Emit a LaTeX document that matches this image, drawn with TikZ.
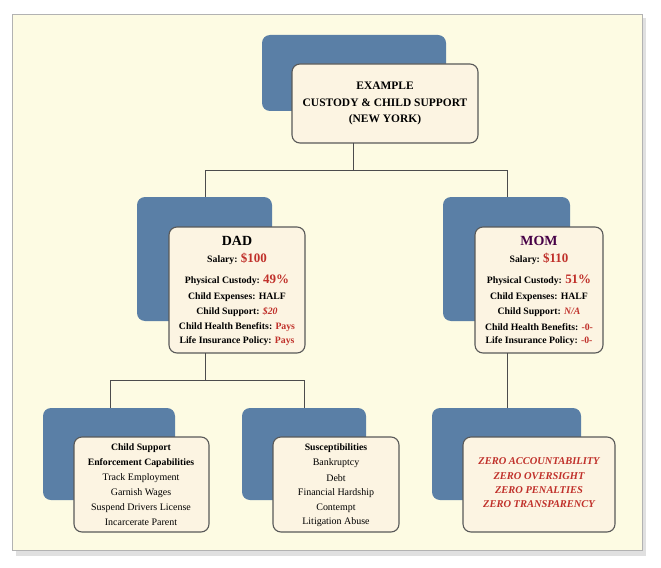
\documentclass[tikz,border=0pt]{standalone}
\usepackage{fontspec}
\setmainfont{Liberation Serif}
\usetikzlibrary{positioning}
\definecolor{cream}{HTML}{FDFBE3}
\definecolor{boxfill}{HTML}{FCF4E2}
\definecolor{steel}{HTML}{5A7FA6}
\definecolor{money}{HTML}{C0302A}
\tikzset{
  backbox/.style={fill=steel, rounded corners=8bp},
  frontbox/.style={draw=black!65, line width=1.1pt, fill=boxfill, rounded corners=8bp},
  wire/.style={draw=black!70, line width=1pt},
  txt/.style={font=\bfseries\fontsize{9.8}{10}\selectfont, inner sep=0pt},
  plain/.style={font=\fontsize{10}{10}\selectfont, inner sep=0pt},
  zero/.style={font=\bfseries\itshape\fontsize{10.5}{10}\selectfont, text=money, inner sep=0pt}
}
\newcommand{\red}[1]{\textcolor{money}{#1}}
\newcommand{\bigred}[1]{{\fontsize{13}{13}\selectfont\red{#1}}}
\begin{document}
\begin{tikzpicture}[x=1bp,y=-1bp]
  \useasboundingbox (0,0) rectangle (661,568);
  % frame
  \fill[black!12] (16,18) rectangle (646,556);
  \draw[black!30, fill=cream] (12,14) rectangle (642,550);

  % top box
  \fill[backbox] (262,35) rectangle (446,111);
  \draw[frontbox] (292,64) rectangle (478,143);
  \node[txt, font=\bfseries\fontsize{11.5}{12}\selectfont] (top1) at (385,86) {EXAMPLE};
  \node[txt, font=\bfseries\fontsize{11.5}{12}\selectfont] (top2) at (385,103) {CUSTODY \& CHILD SUPPORT};
  \node[txt, font=\bfseries\fontsize{11.5}{12}\selectfont] (top3) at (385,120) {(NEW YORK)};
  \coordinate (topb) at (353,143);

  % dad box
  \fill[backbox] (137,197) rectangle (272,321);
  \draw[frontbox] (169,227) rectangle (305,353);
  \node[font=\bfseries\fontsize{14}{14}\selectfont, inner sep=0pt] (dad) at (237,241) {DAD};
  \node[txt] (d1) at (237,259) {Salary: \bigred{\$100}};
  \node[txt] (d2) at (237,280) {Physical Custody: \bigred{49\%}};
  \node[txt] (d3) at (237,297) {Child Expenses: HALF};
  \node[txt] (d4) at (237,312) {Child Support: \red{\itshape\$20}};
  \node[txt] (d5) at (237,327) {Child Health Benefits: \red{Pays}};
  \node[txt] (d6) at (237,341) {Life Insurance Policy: \red{Pays}};
  \coordinate (dadt) at (205,197);
  \coordinate (dadb) at (205,353);

  % mom box
  \fill[backbox] (443,197) rectangle (570,321);
  \draw[frontbox] (475,227) rectangle (603,353);
  \node[font=\bfseries\fontsize{14}{14}\selectfont, text=violet!55!black, inner sep=0pt] (mom) at (539,241) {MOM};
  \node[txt] (m1) at (539,259) {Salary: \bigred{\$110}};
  \node[txt] (m2) at (539,280) {Physical Custody: \bigred{51\%}};
  \node[txt] (m3) at (539,297) {Child Expenses: HALF};
  \node[txt] (m4) at (539,312) {Child Support: \red{\itshape N/A}};
  \node[txt] (m5) at (539,327) {Child Health Benefits: \red{-0-}};
  \node[txt] (m6) at (539,341) {Life Insurance Policy: \red{-0-}};
  \coordinate (momt) at (507,197);
  \coordinate (momb) at (507,353);

  % enforcement box
  \fill[backbox] (43,408) rectangle (175,500);
  \draw[frontbox] (74,437) rectangle (209,532);
  \node[txt] (e1) at (141,448) {Child Support};
  \node[txt] (e2) at (141,463) {Enforcement Capabilities};
  \node[plain] (e3) at (141,478) {Track Employment};
  \node[plain] (e4) at (141,493) {Garnish Wages};
  \node[plain] (e5) at (141,508) {Suspend Drivers License};
  \node[plain] (e6) at (141,522) {Incarcerate Parent};
  \coordinate (enft) at (110,408);

  % susceptibilities box
  \fill[backbox] (242,408) rectangle (366,500);
  \draw[frontbox] (273,437) rectangle (399,532);
  \node[txt] (s1) at (336,448) {Susceptibilities};
  \node[plain] (s2) at (336,463) {Bankruptcy};
  \node[plain] (s3) at (336,478) {Debt};
  \node[plain] (s4) at (336,493) {Financial Hardship};
  \node[plain] (s5) at (336,508) {Contempt};
  \node[plain] (s6) at (336,522) {Litigation Abuse};
  \coordinate (sust) at (304,408);

  % zero box
  \fill[backbox] (432,408) rectangle (581,500);
  \draw[frontbox] (463,437) rectangle (615,532);
  \node[zero] (z1) at (539,461) {ZERO ACCOUNTABILITY};
  \node[zero] (z2) at (539,476) {ZERO OVERSIGHT};
  \node[zero] (z3) at (539,490) {ZERO PENALTIES};
  \node[zero] (z4) at (539,504) {ZERO TRANSPARENCY};
  \coordinate (zerot) at (507,408);

  % connectors
  \draw[wire] (topb) -- ++(0,27) -| (dadt);
  \draw[wire] (topb) -- ++(0,27) -| (momt);
  \draw[wire] (dadb) -- ++(0,27) -| (enft);
  \draw[wire] (dadb) -- ++(0,27) -| (sust);
  \draw[wire] (momb) -- (zerot);
\end{tikzpicture}
\end{document}
